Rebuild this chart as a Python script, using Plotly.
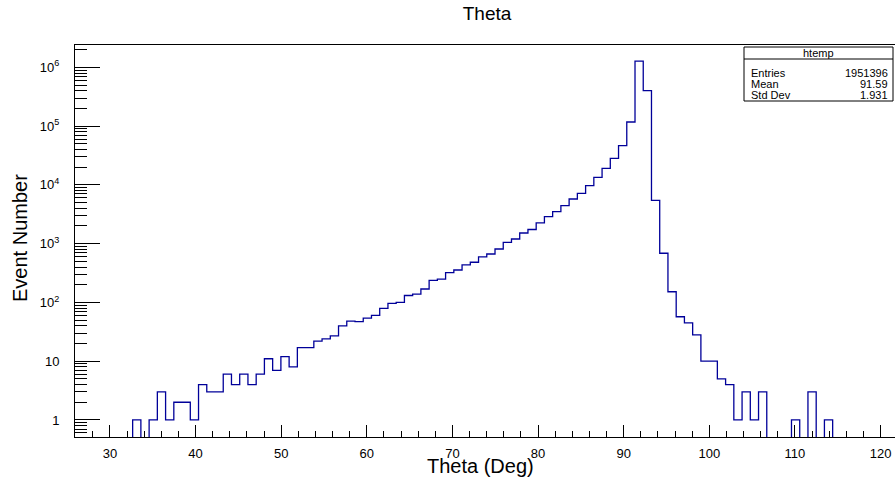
import plotly.graph_objects as go

# ---------------- data ----------------
bin_low = 25.92          # lower edge of first bin (deg)
bin_width = 0.9618       # bin width (deg)
counts = [
    0, 0, 0, 0, 0, 0, 0, 1, 0, 1,
    3, 1, 2, 2, 1, 4, 3, 3, 6, 4,
    6, 4, 6, 11, 7, 12, 8, 17, 17, 22,
    24, 27, 40, 48, 47, 54, 60, 79, 96, 100,
    131, 138, 169, 238, 250, 321, 356, 434, 482, 594,
    667, 811, 1055, 1200, 1518, 1740, 2250, 2877, 3499, 4426,
    5754, 7190, 9700, 13460, 19150, 28340, 46400, 117500, 1273500, 400000,
    5450, 686, 152, 57, 45, 28, 10, 10, 5, 4,
    1, 3, 1, 3, 0, 0, 0, 1, 0, 3,
    0, 1, 0, 0, 0, 0, 0, 0, 0, 0,
]
x_tick_vals = [30, 40, 50, 60, 70, 80, 90, 100, 110, 120]
y_tick_vals = [1, 10, 100, 1e3, 1e4, 1e5, 1e6]
y_tick_text = ["1", "10", "10<sup>2</sup>", "10<sup>3</sup>", "10<sup>4</sup>",
               "10<sup>5</sup>", "10<sup>6</sup>"]
stats_name = "htemp"
stats_labels = ["Entries", "Mean", "Std Dev"]
stats_values = ["1951396", "91.59", "1.931"]
title_text = "Theta"
x_title = "Theta (Deg)"
y_title = "Event Number"

# ---------------- geometry ----------------
W, H = 895, 482
L, R, T, B = 75, 0, 45, 45
x_range = [25.92, 25.92 + 820 / 8.5625]
y_range = [-0.29, 6.38]
FONT = "Liberation Sans, Arial, Helvetica, sans-serif"
LINE_COLOR = "#000099"

n = len(counts)
edges = [bin_low + i * bin_width for i in range(n + 1)]
floor_val = 0.05  # zero bins drawn below the visible log range
ys = [c if c > 0 else floor_val for c in counts]
ys = ys + [ys[-1]]

minor_y = []
for k in range(-1, 7):
    for m in range(2, 10):
        v = m * 10 ** k
        if 10 ** y_range[0] < v < 10 ** y_range[1]:
            minor_y.append(v)

fig = go.Figure()
fig.add_trace(go.Scatter(
    x=edges, y=ys, mode="lines", line_shape="hv",
    line=dict(color=LINE_COLOR, width=1.3),
    showlegend=False, hoverinfo="skip"))
# invisible copy to host the minor-tick axis
fig.add_trace(go.Scatter(
    x=edges, y=ys, mode="lines", line=dict(width=0), opacity=0,
    yaxis="y2", showlegend=False, hoverinfo="skip"))

axis_font = dict(family=FONT, size=13, color="black")

fig.update_layout(
    width=W, height=H,
    margin=dict(l=L, r=R, t=T, b=B),
    paper_bgcolor="white", plot_bgcolor="white",
    font=dict(family=FONT, color="black"),
    title=dict(text=title_text, x=487 / W, xanchor="center",
               y=1 - 13 / H, yanchor="middle", yref="container",
               font=dict(family=FONT, size=19, color="black")),
    xaxis=dict(
        range=x_range, showgrid=False, zeroline=False,
        showline=True, linecolor="black", linewidth=1, mirror=True,
        ticks="inside", ticklen=12, tickcolor="black", tickwidth=1,
        tickvals=x_tick_vals, tickfont=axis_font, ticklabelstandoff=4,
        minor=dict(ticks="inside", ticklen=6, tickcolor="black",
                   dtick=2, tick0=0, showgrid=False),
    ),
    yaxis=dict(
        type="log", range=y_range, showgrid=False, zeroline=False,
        showline=True, linecolor="black", linewidth=1, mirror=False,
        ticks="inside", ticklen=25, tickcolor="black", tickwidth=1,
        tickvals=y_tick_vals, ticktext=y_tick_text, tickfont=axis_font,
        ticklabelstandoff=12,
    ),
    yaxis2=dict(
        type="log", range=y_range, overlaying="y", anchor="x", side="left",
        showgrid=False, zeroline=False, showline=False,
        ticks="inside", ticklen=12, tickcolor="black", tickwidth=1,
        tickvals=minor_y, showticklabels=False,
    ),
)

def px_x(p):
    return (p - L) / (W - L - R)

def px_y(p):
    return (H - B - p) / (H - T - B)

# axis titles
fig.add_annotation(text=x_title, xref="paper", yref="paper",
                   x=px_x(480), y=px_y(466), xanchor="center", yanchor="middle",
                   showarrow=False, font=dict(family=FONT, size=20, color="black"))
fig.add_annotation(text=y_title, xref="paper", yref="paper",
                   x=px_x(20), y=px_y(238), xanchor="center", yanchor="middle",
                   textangle=-90, showarrow=False,
                   font=dict(family=FONT, size=20, color="black"))

# stats box
bx0, bx1, by0, by1, bsep = 744, 893, 47, 101, 59
fig.add_shape(type="rect", xref="paper", yref="paper",
              x0=px_x(bx0), x1=px_x(bx1), y0=px_y(by1), y1=px_y(by0),
              line=dict(color="black", width=1), fillcolor="white", layer="above")
fig.add_shape(type="line", xref="paper", yref="paper",
              x0=px_x(bx0), x1=px_x(bx1), y0=px_y(bsep), y1=px_y(bsep),
              line=dict(color="black", width=1), layer="above")
sfont = dict(family=FONT, size=11, color="black")
fig.add_annotation(text=stats_name, xref="paper", yref="paper",
                   x=px_x((bx0 + bx1) / 2), y=px_y(53), xanchor="center",
                   yanchor="middle", showarrow=False, font=sfont)
row_y = [73, 84, 95]
for lab, val, ry in zip(stats_labels, stats_values, row_y):
    fig.add_annotation(text=lab, xref="paper", yref="paper",
                       x=px_x(bx0 + 5), y=px_y(ry), xanchor="left",
                       yanchor="middle", showarrow=False, font=sfont)
    fig.add_annotation(text=val, xref="paper", yref="paper",
                       x=px_x(bx1 - 3), y=px_y(ry), xanchor="right",
                       yanchor="middle", showarrow=False, font=sfont)

fig.write_html("out.html",
               config={"displayModeBar": False},
               post_script="document.body.style.margin='0';"
                           "document.body.style.padding='0';")
